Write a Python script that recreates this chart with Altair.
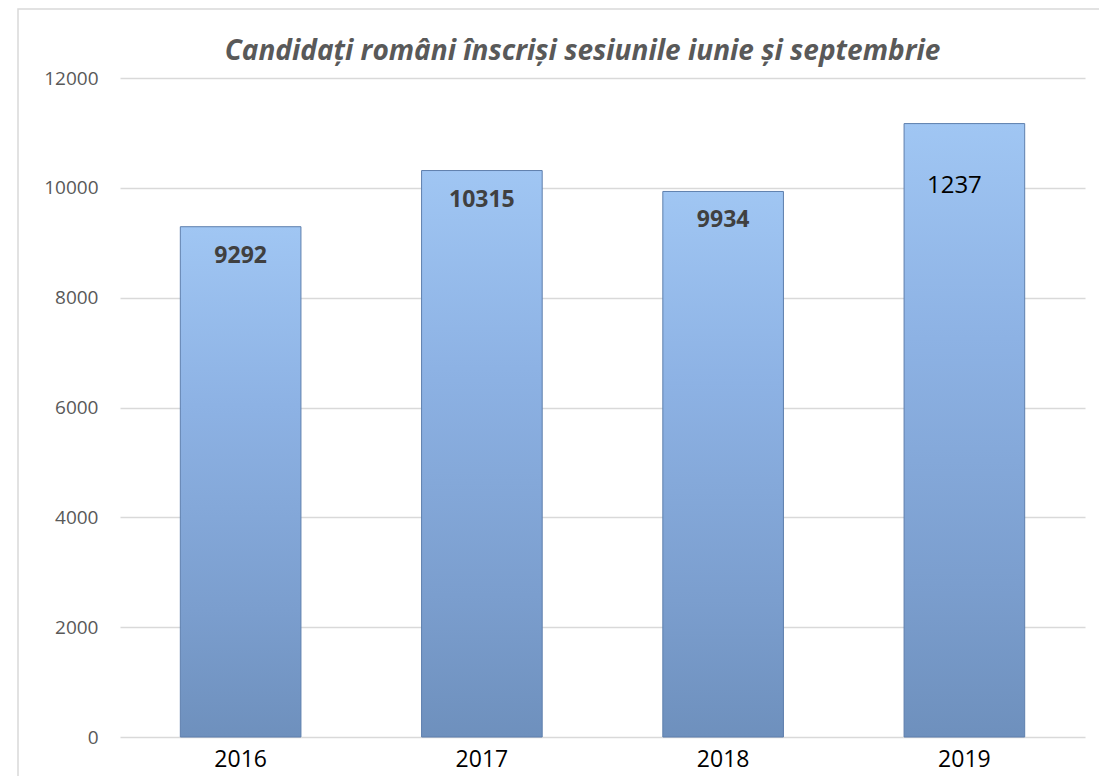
import altair as alt
import pandas as pd

years = ["2016", "2017", "2018", "2019"]
heights = [9292, 10315, 9934, 11170]
labels = ["9292", "10315", "9934", "1237"]
plain_label_year = ["2019"]
title_text = "Candidați români înscriși sesiunile iunie și septembrie"

df = pd.DataFrame({"year": years, "value": heights, "label": labels})

W, H = 965, 659
FONT = "Open Sans"

grad = alt.Gradient(
    gradient="linear",
    stops=[
        alt.GradientStop(color="#A0C6F3", offset=0),
        alt.GradientStop(color="#8DB2E4", offset=0.35),
        alt.GradientStop(color="#7B9ECE", offset=0.75),
        alt.GradientStop(color="#6E90BD", offset=1),
    ],
    x1=0, x2=0, y1=0, y2=1,
)

x = alt.X("year:N", sort=years,
          scale=alt.Scale(paddingInner=0.5, paddingOuter=0.25),
          axis=alt.Axis(title=None, domain=False, ticks=False, labelAngle=0,
                        labelFont=FONT, labelFontSize=23, labelColor="#000000",
                        labelPadding=11))
y = alt.Y("value:Q", scale=alt.Scale(domain=[0, 12000]),
          axis=alt.Axis(title=None, domain=False, ticks=False, format="d",
                        values=list(range(0, 12001, 2000)),
                        labelFont=FONT, labelFontSize=19, labelColor="#595959",
                        labelPadding=22, gridColor="#D9D9D9", gridWidth=1.3))

base = alt.Chart(df)

bars = base.mark_bar(color=grad, stroke="#5E7FAD", strokeWidth=1).encode(x=x, y=y)

bold_labels = base.transform_filter(
    "indexof(['2019'], datum.year) < 0"
).mark_text(baseline="middle", dy=29, font=FONT, fontSize=23, fontWeight="bold",
            color="#404040").encode(x=alt.X("year:N", sort=years), y="value:Q", text="label:N")

plain_labels = base.transform_filter(
    alt.FieldOneOfPredicate(field="year", oneOf=plain_label_year)
).mark_text(baseline="middle", dy=62, dx=-10, font=FONT, fontSize=24,
            color="#000000").encode(x=alt.X("year:N", sort=years), y="value:Q", text="label:N")

one = alt.Data(values=[{"t": title_text}])

frame = alt.Chart(one).mark_rect(
    fill=None, stroke="#D9D9D9", strokeWidth=1.5, clip=False
).encode(x=alt.value(-102), x2=alt.value(1200), y=alt.value(-69), y2=alt.value(800))

title = alt.Chart(one).mark_text(
    font=FONT, fontSize=28, fontStyle="italic", fontWeight="bold", color="#595959",
    baseline="alphabetic", align="center"
).encode(x=alt.value(W / 2 - 20), y=alt.value(-18), text="t:N")

chart = alt.layer(frame, bars, bold_labels, plain_labels, title).properties(
    width=W, height=H,
    padding={"left": 112, "top": 70, "right": 14, "bottom": 39},
    autosize=alt.AutoSizeParams(type="none"),
).configure(background="white").configure_view(stroke=None)

chart.save("out.html", embed_options={"renderer": "svg", "actions": False})
